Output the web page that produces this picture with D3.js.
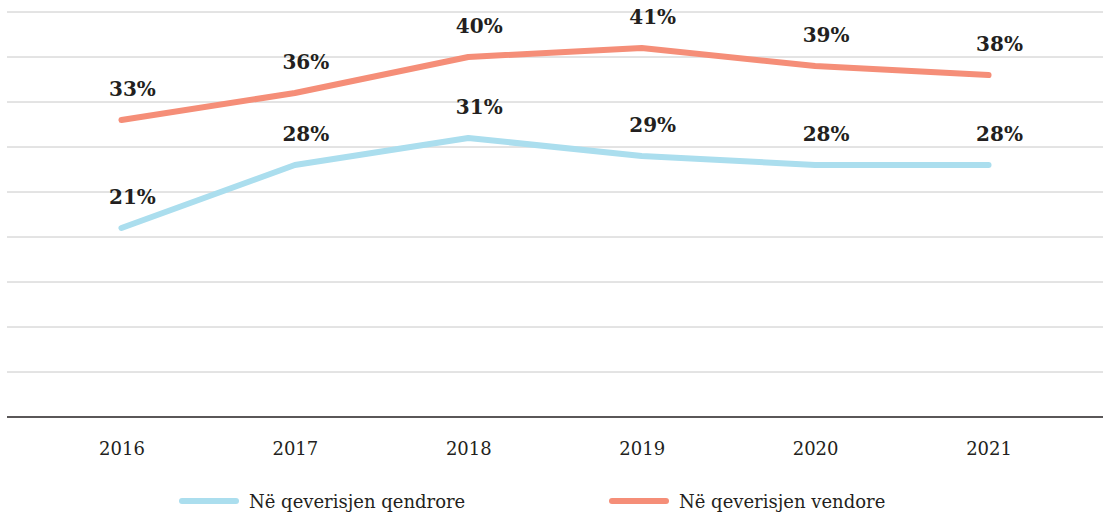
<!DOCTYPE html>
<html>
<head>
<meta charset="utf-8">
<script src="https://cdn.jsdelivr.net/npm/d3@7"></script>
<style>
  html, body { margin: 0; padding: 0; background: #fff; }
  svg { display: block; }
  text { font-family: "DejaVu Serif", "Liberation Serif", serif; fill: #231f20; }
</style>
</head>
<body>
<svg id="chart" width="1106" height="513"></svg>
<script>
const years = ["2016", "2017", "2018", "2019", "2020", "2021"];
const central = [21, 28, 31, 29, 28, 28];
const local = [33, 36, 40, 41, 39, 38];
const gridValues = [5, 10, 15, 20, 25, 30, 35, 40, 45];
const seriesNames = ["Në qeverisjen qendrore", "Në qeverisjen vendore"];
const seriesColors = ["#abdeee", "#f58e78"];

const svg = d3.select("#chart");

const x = d3.scalePoint().domain(years).range([7, 1103]).padding(0.66);
const y = d3.scaleLinear().domain([0, 45]).range([417, 12]);

// horizontal gridlines
svg.append("g")
  .selectAll("line")
  .data(gridValues)
  .join("line")
  .attr("x1", 7).attr("x2", 1103)
  .attr("y1", d => y(d)).attr("y2", d => y(d))
  .attr("stroke", "#c8c8c8").attr("stroke-width", 1);

// baseline axis with year labels
const xAxis = svg.append("g")
  .attr("transform", `translate(0,${y(0)})`)
  .call(d3.axisBottom(x).tickSize(0).tickPadding(25));
xAxis.select(".domain").attr("d", "M7,0H1103").attr("stroke", "#231f20").attr("stroke-width", 1.3);
xAxis.selectAll("text")
  .style("font-family", "'DejaVu Serif', 'Liberation Serif', serif")
  .style("font-size", "18px")
  .attr("fill", "#231f20");

const line = d3.line().x((d, i) => x(years[i])).y(d => y(d));

[central, local].forEach((vals, k) => {
  svg.append("path")
    .datum(vals)
    .attr("d", line)
    .attr("fill", "none")
    .attr("stroke", seriesColors[k])
    .attr("stroke-width", 6)
    .attr("stroke-linecap", "round")
    .attr("stroke-linejoin", "round");

  svg.append("g")
    .selectAll("text")
    .data(vals)
    .join("text")
    .attr("x", (d, i) => x(years[i]) + 11)
    .attr("y", d => y(d) - 24)
    .attr("text-anchor", "middle")
    .style("font-size", "20px")
    .style("font-weight", "bold")
    .text(d => d + "%");
});

// legend
const legendX = [182, 612];
seriesNames.forEach((name, k) => {
  const g = svg.append("g").attr("transform", `translate(${legendX[k]},501)`);
  g.append("line")
    .attr("x1", 0).attr("x2", 54).attr("y1", 0).attr("y2", 0)
    .attr("stroke", seriesColors[k]).attr("stroke-width", 6)
    .attr("stroke-linecap", "round");
  g.append("text")
    .attr("x", 67).attr("y", 7)
    .style("font-size", "18px")
    .text(name);
});
</script>
</body>
</html>
